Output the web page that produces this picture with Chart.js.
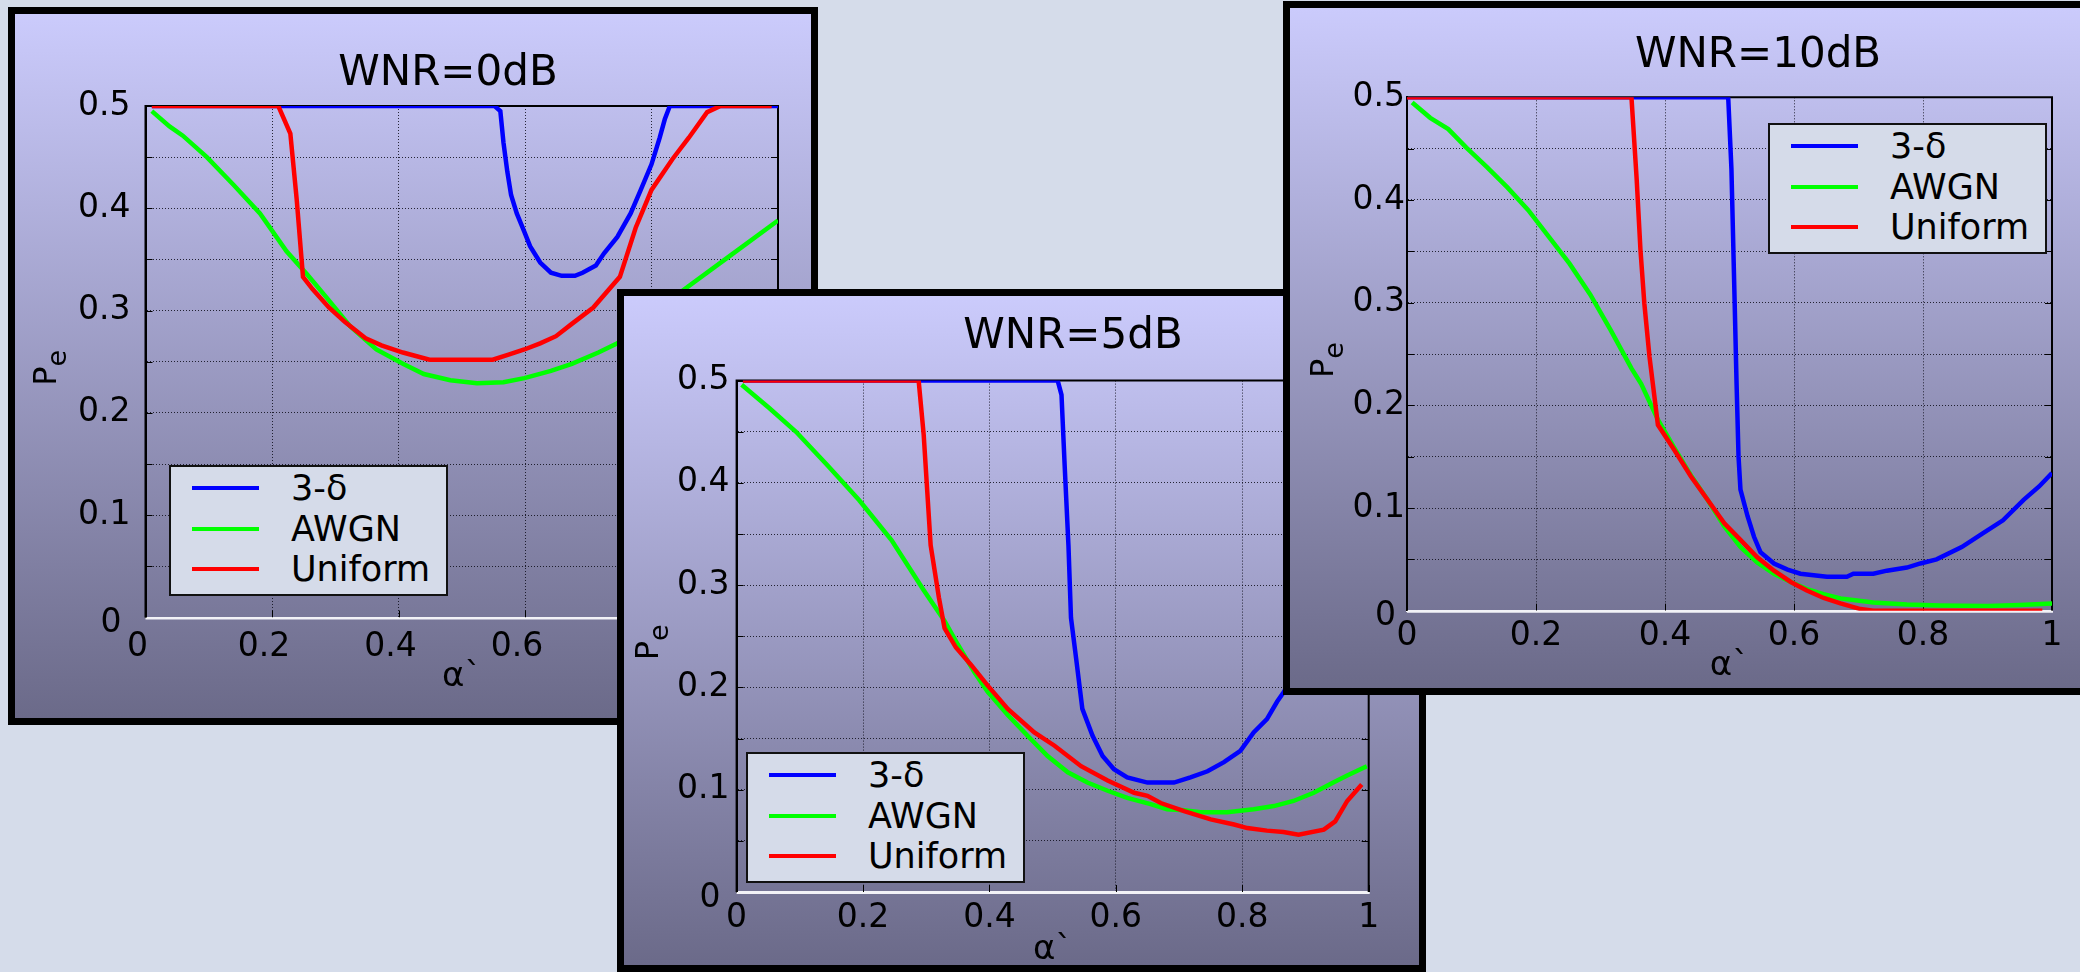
<!DOCTYPE html>
<html>
<head>
<meta charset="utf-8">
<title>Pe vs alpha for WNR = 0, 5, 10 dB</title>
<script src="https://cdn.jsdelivr.net/npm/chart.js@4.4.1/dist/chart.umd.min.js"></script>
<style>
  html, body { margin: 0; padding: 0; }
  body { width: 2080px; height: 972px; overflow: hidden; position: relative; background: #d5dcea; font-family: 'DejaVu Sans', sans-serif; }
  .panel { position: absolute; box-sizing: border-box; border: 7px solid #000; background: linear-gradient(to bottom, #cbcbfc 0%, #6b6a89 100%); overflow: hidden; }
  .panel canvas { position: absolute; left: 0; top: 0; }
  .ptitle { position: absolute; width: 400px; text-align: center; font-size: 42px; line-height: 50px; color: #000; white-space: nowrap; }
  .legend { position: absolute; box-sizing: border-box; width: 279px; height: 131px; background: #d5dbe9; border: 2px solid #111; }
  .lrow { position: absolute; left: 0; width: 100%; height: 40px; }
  .swatch { position: absolute; left: 21px; top: 18px; width: 67px; height: 4px; }
  .ltext { position: absolute; left: 120px; top: 0; font-size: 35px; line-height: 40px; color: #000; white-space: nowrap; }
</style>
</head>
<body>
<div class="panel" id="panel0" style="left:8px;top:7px;width:810px;height:718px;"><canvas id="chart0" width="796" height="704"></canvas></div>
<div class="panel" id="panel1" style="left:617px;top:289px;width:809px;height:683px;"><canvas id="chart1" width="795" height="669"></canvas></div>
<div class="panel" id="panel2" style="left:1283px;top:1px;width:820px;height:694px;"><canvas id="chart2" width="806" height="680"></canvas></div>

<script>
/* ---- data ---- */
const SERIES = ['3-δ', 'AWGN', 'Uniform'];
const SERIES_COLORS = ['#0000ff', '#00ff00', '#ff0000'];
const PANEL_TITLES = ['WNR=0dB', 'WNR=5dB', 'WNR=10dB'];
const X_TICKS = [0, 0.2, 0.4, 0.6, 0.8, 1];
const Y_TICKS = [0, 0.1, 0.2, 0.3, 0.4, 0.5];
const X_LABEL = 'α`';
const Y_LABEL = ['P', 'e'];   // P with subscript e

// WNR = 0 dB
const W0_DELTA_X = [0.01, 0.552, 0.561, 0.566, 0.572, 0.578, 0.587, 0.599, 0.608, 0.624, 0.641, 0.658, 0.679, 0.691, 0.712, 0.725, 0.746, 0.767, 0.783, 0.80, 0.813, 0.821, 0.829, 1.0];
const W0_DELTA_Y = [0.5, 0.5, 0.495, 0.464, 0.436, 0.413, 0.395, 0.377, 0.363, 0.347, 0.337, 0.334, 0.334, 0.337, 0.344, 0.356, 0.372, 0.395, 0.418, 0.443, 0.469, 0.487, 0.5, 0.5];
const W0_AWGN_X = [0.01, 0.038, 0.059, 0.097, 0.139, 0.181, 0.223, 0.256, 0.29, 0.323, 0.365, 0.407, 0.44, 0.482, 0.524, 0.566, 0.599, 0.641, 0.674, 0.716, 0.746, 0.80, 0.85, 0.925, 1.0];
const W0_AWGN_Y = [0.495, 0.48, 0.471, 0.45, 0.423, 0.395, 0.358, 0.335, 0.31, 0.285, 0.262, 0.248, 0.238, 0.232, 0.229, 0.23, 0.234, 0.241, 0.248, 0.259, 0.268, 0.292, 0.32, 0.354, 0.388];
const W0_UNI_X = [0.01, 0.21, 0.229, 0.239, 0.249, 0.264, 0.29, 0.315, 0.348, 0.373, 0.407, 0.449, 0.549, 0.574, 0.599, 0.624, 0.649, 0.674, 0.708, 0.75, 0.775, 0.80, 0.833, 0.859, 0.888, 0.909, 0.99];
const W0_UNI_Y = [0.5, 0.5, 0.473, 0.409, 0.333, 0.321, 0.303, 0.289, 0.273, 0.266, 0.259, 0.252, 0.252, 0.257, 0.262, 0.268, 0.275, 0.287, 0.303, 0.333, 0.381, 0.418, 0.448, 0.469, 0.494, 0.5, 0.5];

// WNR = 5 dB
const W5_DELTA_X = [0.01, 0.508, 0.514, 0.519, 0.525, 0.529, 0.537, 0.547, 0.563, 0.579, 0.597, 0.618, 0.65, 0.692, 0.718, 0.745, 0.771, 0.797, 0.818, 0.839, 0.855, 0.864, 0.9, 0.95, 1.0];
const W5_DELTA_Y = [0.5, 0.5, 0.486, 0.417, 0.339, 0.268, 0.229, 0.179, 0.153, 0.133, 0.12, 0.112, 0.107, 0.107, 0.112, 0.118, 0.127, 0.138, 0.156, 0.169, 0.186, 0.194, 0.23, 0.28, 0.33];
const W5_AWGN_X = [0.008, 0.052, 0.094, 0.144, 0.194, 0.245, 0.295, 0.329, 0.35, 0.376, 0.397, 0.429, 0.46, 0.492, 0.524, 0.555, 0.587, 0.618, 0.655, 0.681, 0.708, 0.734, 0.776, 0.818, 0.85, 0.881, 0.913, 0.944, 0.966, 0.997];
const W5_AWGN_Y = [0.496, 0.473, 0.45, 0.417, 0.383, 0.344, 0.296, 0.265, 0.242, 0.215, 0.196, 0.173, 0.153, 0.133, 0.117, 0.107, 0.099, 0.092, 0.086, 0.081, 0.08, 0.078, 0.078, 0.081, 0.084, 0.089, 0.097, 0.107, 0.114, 0.123];
const W5_UNI_X = [0.01, 0.288, 0.296, 0.307, 0.32, 0.329, 0.347, 0.371, 0.397, 0.429, 0.471, 0.503, 0.545, 0.587, 0.629, 0.65, 0.671, 0.708, 0.75, 0.787, 0.808, 0.839, 0.865, 0.889, 0.929, 0.947, 0.966, 0.989];
const W5_UNI_Y = [0.5, 0.5, 0.447, 0.339, 0.288, 0.258, 0.239, 0.222, 0.202, 0.179, 0.156, 0.143, 0.123, 0.109, 0.097, 0.094, 0.087, 0.079, 0.071, 0.066, 0.0625, 0.06, 0.0586, 0.056, 0.061, 0.069, 0.089, 0.105];

// WNR = 10 dB
const W10_DELTA_X = [0.0, 0.498, 0.503, 0.508, 0.511, 0.514, 0.517, 0.528, 0.538, 0.548, 0.569, 0.59, 0.61, 0.651, 0.682, 0.692, 0.723, 0.744, 0.775, 0.796, 0.821, 0.86, 0.892, 0.924, 0.956, 0.98, 1.0];
const W10_DELTA_Y = [0.5, 0.5, 0.43, 0.3, 0.22, 0.15, 0.118, 0.092, 0.072, 0.057, 0.046, 0.04, 0.036, 0.033, 0.033, 0.036, 0.036, 0.039, 0.042, 0.046, 0.05, 0.062, 0.075, 0.088, 0.108, 0.121, 0.134];
const W10_AWGN_X = [0.008, 0.036, 0.064, 0.092, 0.124, 0.156, 0.188, 0.22, 0.252, 0.284, 0.316, 0.348, 0.363, 0.389, 0.414, 0.44, 0.466, 0.492, 0.517, 0.543, 0.569, 0.595, 0.62, 0.646, 0.672, 0.723, 0.775, 0.826, 0.9, 0.95, 1.0];
const W10_AWGN_Y = [0.495, 0.48, 0.469, 0.451, 0.432, 0.412, 0.39, 0.364, 0.338, 0.308, 0.273, 0.236, 0.221, 0.186, 0.159, 0.132, 0.108, 0.082, 0.062, 0.047, 0.036, 0.028, 0.021, 0.016, 0.012, 0.008, 0.006, 0.005, 0.0045, 0.0055, 0.007];
const W10_UNI_X = [0.0, 0.348, 0.356, 0.362, 0.368, 0.376, 0.389, 0.414, 0.44, 0.466, 0.492, 0.517, 0.543, 0.569, 0.595, 0.62, 0.646, 0.672, 0.703, 0.723, 0.85, 0.985];
const W10_UNI_Y = [0.5, 0.5, 0.421, 0.351, 0.299, 0.247, 0.181, 0.157, 0.131, 0.108, 0.085, 0.069, 0.052, 0.039, 0.028, 0.0196, 0.0124, 0.0072, 0.0016, 0, 0, 0];

/* ---- layout of each panel (px inside the panel border) ---- */
const PANELS = [
  { series: [[W0_DELTA_X, W0_DELTA_Y], [W0_AWGN_X, W0_AWGN_Y], [W0_UNI_X, W0_UNI_Y]],
    title: [233, 32], legend: [154, 451],
    padTop: 92, padRight: 33, yWidth: 130.5, xHeight: 100.5,
    yTickPad: 15, xTickPad: 10, yTitleX: 41, xTitlePad: 20, xShift: -8 },
  { series: [[W5_DELTA_X, W5_DELTA_Y], [W5_AWGN_X, W5_AWGN_Y], [W5_UNI_X, W5_UNI_Y]],
    title: [249, 13], legend: [122, 456],
    padTop: 84.6, padRight: 50.3, yWidth: 112.6, xHeight: 73,
    yTickPad: 7, xTickPad: 7, yTitleX: 34, xTitlePad: -6, xShift: 0 },
  { series: [[W10_DELTA_X, W10_DELTA_Y], [W10_AWGN_X, W10_AWGN_Y], [W10_UNI_X, W10_UNI_Y]],
    title: [268, 20], legend: [478, 115],
    padTop: 89.3, padRight: 44, yWidth: 117, xHeight: 77.3,
    yTickPad: 2, xTickPad: 6, yTitleX: 43, xTitlePad: 1, xShift: 0 },
];

const FONT = "'DejaVu Sans', sans-serif";
const TICK_SIZE = 33;
const GRID_COLOR = 'rgba(12,12,24,0.85)';

function labelFrom(list) {
  return v => {
    const hit = list.find(t => Math.abs(t - v) < 1e-6);
    return hit === undefined ? '' : String(hit);
  };
}

// solid plot frame (white bottom edge), short inward tick marks, the corner
// "0" of the y axis (set below the axis as in the original) and the P_e title
const framePlugin = {
  id: 'frame',
  beforeDatasetsDraw(chart) {
    const { ctx, chartArea: a, scales } = chart;
    ctx.save();
    ctx.lineWidth = 1;
    ctx.strokeStyle = '#000';
    scales.y.ticks.forEach(t => {
      const y = Math.round(scales.y.getPixelForValue(t.value)) + 0.5;
      ctx.beginPath();
      ctx.moveTo(a.left, y); ctx.lineTo(a.left + 7, y);
      ctx.moveTo(a.right - 7, y); ctx.lineTo(a.right, y);
      ctx.stroke();
    });
    scales.x.ticks.forEach(t => {
      const x = Math.round(scales.x.getPixelForValue(t.value)) + 0.5;
      ctx.beginPath();
      ctx.moveTo(x, a.bottom); ctx.lineTo(x, a.bottom - 7);
      ctx.stroke();
    });
    ctx.lineWidth = 2;
    ctx.beginPath();
    ctx.moveTo(a.left, a.bottom); ctx.lineTo(a.left, a.top);
    ctx.lineTo(a.right, a.top); ctx.lineTo(a.right, a.bottom);
    ctx.stroke();
    ctx.strokeStyle = '#f2f2f7';
    ctx.beginPath();
    ctx.moveTo(a.left, a.bottom + 1); ctx.lineTo(a.right + 1, a.bottom + 1);
    ctx.stroke();
    ctx.restore();
  },
  afterDraw(chart, args, opts) {
    const { ctx, chartArea: a } = chart;
    ctx.save();
    ctx.fillStyle = '#000';
    ctx.font = `${TICK_SIZE}px ${FONT}`;
    ctx.textAlign = 'right';
    ctx.textBaseline = 'middle';
    ctx.fillText(String(Y_TICKS[0]), a.left - opts.zeroGap, a.bottom + 6);

    // rotated y title: P with a lowered, smaller e
    ctx.textAlign = 'left';
    ctx.textBaseline = 'alphabetic';
    const big = `32px ${FONT}`, small = `27px ${FONT}`;
    ctx.font = big;
    const wP = ctx.measureText(Y_LABEL[0]).width;
    ctx.font = small;
    const wE = ctx.measureText(Y_LABEL[1]).width;
    ctx.translate(opts.titleX, (a.top + a.bottom) / 2 + 6);
    ctx.rotate(-Math.PI / 2);
    const x0 = -(wP + wE) / 2;
    ctx.font = big;
    ctx.fillText(Y_LABEL[0], x0, 0);
    ctx.font = small;
    ctx.fillText(Y_LABEL[1], x0 + wP, 10);
    ctx.restore();
  }
};

function addTitle(panel, text, pos) {
  const t = document.createElement('div');
  t.className = 'ptitle';
  t.style.left = pos[0] + 'px';
  t.style.top = pos[1] + 'px';
  t.textContent = text;
  panel.appendChild(t);
}

function addLegend(panel, pos) {
  const lg = document.createElement('div');
  lg.className = 'legend';
  lg.style.left = pos[0] + 'px';
  lg.style.top = pos[1] + 'px';
  SERIES.forEach((name, i) => {
    const row = document.createElement('div');
    row.className = 'lrow';
    row.style.top = (1 + i * 40.5) + 'px';
    row.innerHTML = `<span class="swatch" style="background:${SERIES_COLORS[i]}"></span><span class="ltext">${name}</span>`;
    lg.appendChild(row);
  });
  panel.appendChild(lg);
}

function buildPanel(p, idx) {
  const panel = document.getElementById('panel' + idx);
  addTitle(panel, PANEL_TITLES[idx], p.title);
  addLegend(panel, p.legend);

  const tickFont = { family: FONT, size: TICK_SIZE };
  const titleFont = { family: FONT, size: 34 };
  new Chart(document.getElementById('chart' + idx), {
    type: 'line',
    data: {
      datasets: p.series.map(([xs, ys], i) => ({
        label: SERIES[i],
        data: xs.map((x, k) => ({ x, y: ys[k] })),
        borderColor: SERIES_COLORS[i],
        backgroundColor: SERIES_COLORS[i],
        borderWidth: 4.5,
        pointRadius: 0,
        tension: 0,
        fill: false,
        order: 2 - i,
      })),
    },
    options: {
      responsive: false,
      animation: false,
      events: [],
      layout: { padding: { top: p.padTop, right: p.padRight, left: 0, bottom: 0 } },
      plugins: {
        legend: { display: false }, tooltip: { enabled: false }, title: { display: false },
        frame: { zeroGap: p.yTickPad + 9, titleX: p.yTitleX },
      },
      scales: {
        x: {
          type: 'linear', min: 0, max: 1,
          grid: { color: GRID_COLOR, lineWidth: 1, drawTicks: false },
          border: { display: true, color: '#f2f2f7', width: 2, dash: [1, 2] },
          ticks: { stepSize: 0.2, autoSkip: false, maxRotation: 0, color: '#000', font: tickFont,
                   padding: p.xTickPad, labelOffset: p.xShift, callback: labelFrom(X_TICKS) },
          title: { display: true, text: X_LABEL, color: '#000', font: titleFont, padding: { top: 0, bottom: p.xTitlePad } },
          afterFit: s => { s.height = p.xHeight; },
        },
        y: {
          type: 'linear', min: 0, max: 0.5,
          grid: { color: GRID_COLOR, lineWidth: 1, drawTicks: false },
          border: { display: true, color: '#000', width: 2, dash: [1, 2] },
          ticks: { stepSize: 0.05, autoSkip: false, color: '#000', font: tickFont,
                   padding: p.yTickPad, callback: labelFrom(Y_TICKS.slice(1)) },
          title: { display: false },
          afterFit: s => { s.width = p.yWidth; },
        },
      },
    },
    plugins: [framePlugin],
  });
}

PANELS.forEach(buildPanel);
</script>
</body>
</html>
